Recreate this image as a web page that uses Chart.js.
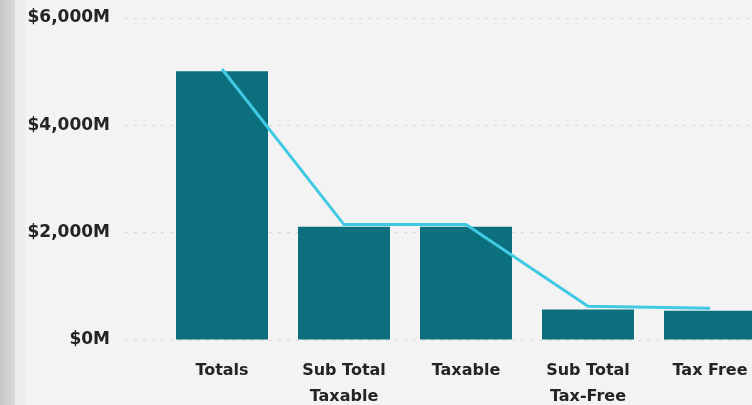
<!DOCTYPE html>
<html>
<head>
<meta charset="utf-8">
<script src="https://cdn.jsdelivr.net/npm/chart.js@4"></script>
<style>
  html, body { margin: 0; padding: 0; background: #f3f3f3; overflow: hidden; }
  #wrap { position: relative; width: 752px; height: 405px; overflow: hidden; }
  #strip { position: absolute; left: 0; top: 0; width: 15px; height: 405px;
           background: linear-gradient(to right, #c6c6c6, #d9d9d9); }
  #strip2 { position: absolute; left: 15px; top: 0; width: 10px; height: 405px; background: #ececec; }
  #box { position: absolute; left: 0; top: 0; width: 790px; height: 405px; }
</style>
</head>
<body>
<div id="wrap">
  <div id="strip"></div>
  <div id="strip2"></div>
  <div id="box"><canvas id="grafico" width="790" height="405"></canvas></div>
</div>
<script>
// datos (millones)
const categorias = [["Totals"], ["Sub Total", "Taxable"], ["Taxable"], ["Sub Total", "Tax-Free"], ["Tax Free"]];
const valoresBarras = [5010, 2110, 2110, 570, 545];
const valoresLinea = [5050, 2150, 2150, 630, 590];
const ticksY = [0, 2000, 4000, 6000];

const fuente = "'Segoe UI', 'DejaVu Sans', sans-serif";

const ctx = document.getElementById('grafico').getContext('2d');
new Chart(ctx, {
  data: {
    labels: categorias,
    datasets: [
      {
        type: 'line',
        data: valoresLinea,
        borderColor: '#40c9e2',
        borderWidth: 3,
        pointRadius: 0,
        tension: 0,
        order: 0
      },
      {
        type: 'bar',
        data: valoresBarras,
        backgroundColor: '#0b6f7e',
        barPercentage: 0.754,
        categoryPercentage: 1,
        order: 1
      }
    ]
  },
  options: {
    responsive: false,
    animation: false,
    layout: { padding: { top: 18, right: 19, left: 0, bottom: 0 } },
    plugins: { legend: { display: false }, tooltip: { enabled: false } },
    scales: {
      x: {
        grid: { display: false },
        border: { display: false },
        ticks: {
          color: '#252423',
          padding: 10,
          font: { family: fuente, size: 16, weight: 'bold', lineHeight: 1.6 },
          maxRotation: 0,
          autoSkip: false
        },
        afterFit: (scale) => { scale.height = 65; }
      },
      y: {
        min: 0,
        max: 6000,
        afterBuildTicks: (scale) => { scale.ticks = ticksY.map(v => ({ value: v })); },
        // lineas punteadas
        border: { display: false, dash: [3, 6] },
        grid: {
          color: '#d8d8d8',
          lineWidth: 1,
          tickLength: 36,
          tickColor: '#d8d8d8',
          tickBorderDash: [3, 6]
        },
        ticks: {
          color: '#252423',
          padding: 15,
          font: { family: fuente, size: 17, weight: 'bold' },
          callback: (v) => '$' + v.toLocaleString('en-US') + 'M'
        },
        afterFit: (scale) => {
          scale.width = 161;
          scale.paddingTop = 0;
          scale.paddingBottom = 0;
        }
      }
    }
  }
});
</script>
</body>
</html>
